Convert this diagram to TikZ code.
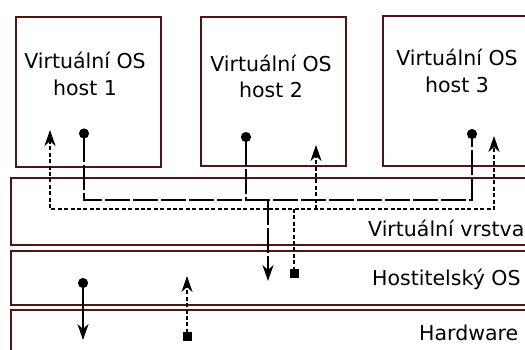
\documentclass[tikz,border=0pt]{standalone}
\usepackage{fontspec}
\setmainfont{DejaVu Sans}
\usetikzlibrary{arrows.meta}
\definecolor{frame}{RGB}{80,20,20}
\tikzset{
  x=1pt, y=-1pt,
  box/.style={draw=frame, line width=1.6pt, fill=white},
  lbl/.style={inner sep=0pt, anchor=base, font=\fontsize{20.5}{27}\selectfont},
  lblr/.style={lbl, anchor=base west},
  sline/.style={line width=2.4pt, dash pattern=on 25pt off 3pt},
  fline/.style={line width=2.4pt},
  dline/.style={line width=2.4pt, dash pattern=on 4pt off 2.4pt},
  dot/.tip={Circle[length=10pt]},
  sq/.tip={Square[length=9pt]},
  head/.tip={Stealth[length=16pt, width=11pt, inset=5pt]},
}
\begin{document}
\begin{tikzpicture}
\useasboundingbox (0,0) rectangle (525,349);

% guest systems
\node[box, minimum width=145pt, minimum height=150pt, anchor=north west] (h1) at (15,16) {};
\node[box, minimum width=145pt, minimum height=149pt, anchor=north west] (h2) at (200,16) {};
\node[box, minimum width=160pt, minimum height=150pt, anchor=north west] (h3) at (382,15) {};

% layers
\node[box, minimum width=530pt, minimum height=67pt, anchor=north west] (vl) at (10,177) {};
\node[box, minimum width=530pt, minimum height=54pt, anchor=north west] (hl) at (10,250) {};
\node[box, minimum width=530pt, minimum height=60pt, anchor=north west] (hw) at (10,309) {};

% labels
\node[lbl] (t1a) at (85,68) {Virtuální OS};
\node[lbl] (t1b) at (85,95) {host 1};
\node[lbl] (t2a) at (271,71) {Virtuální OS};
\node[lbl] (t2b) at (271,97) {host 2};
\node[lbl] (t3a) at (457,65) {Virtuální OS};
\node[lbl] (t3b) at (457,92) {host 3};
\node[lblr] (tv) at (368,236) {Virtuální vrstva};
\node[lblr] (th) at (372,285) {Hostitelský OS};
\node[lblr] (tw) at (419,340) {Hardware};

% anchor points of the connectors
\coordinate (d1) at (84,128.5);
\coordinate (d2) at (246,132);
\coordinate (d3) at (472,129);
\coordinate (c3) at (472,200);
\coordinate (j) at (268,200);
\coordinate (a1) at (268,281);
\coordinate (u1) at (50,130);
\coordinate (u2) at (316,145);
\coordinate (u3) at (494,136);
\coordinate (c4) at (494,209);
\coordinate (k1) at (294,209);
\coordinate (k2) at (316,209);
\coordinate (s1) at (294,277.5);
\coordinate (e1) at (83,278);
\coordinate (e2) at (83,340);
\coordinate (f1) at (187,340.5);
\coordinate (f2) at (187,276);

% outgoing traffic
\draw[sline, {dot}-{dot}] (d1) |- (c3) -- (d3);
\draw[sline, {dot}-] (d2) -- (d2 |- c3);
\draw[sline, -{head}] (j) -- (a1);

% incoming traffic
\draw[dline, {head}-{head}] (u1) |- (c4) -- (u3);
\draw[dline, -{head}] (k2) -- (u2);
\draw[dline, -{sq}] (k1) -- (s1);

% host OS to hardware
\draw[fline, {dot}-{head}] (e1) -- (e2);
\draw[dline, {sq}-{head}] (f1) -- (f2);
\end{tikzpicture}
\end{document}
